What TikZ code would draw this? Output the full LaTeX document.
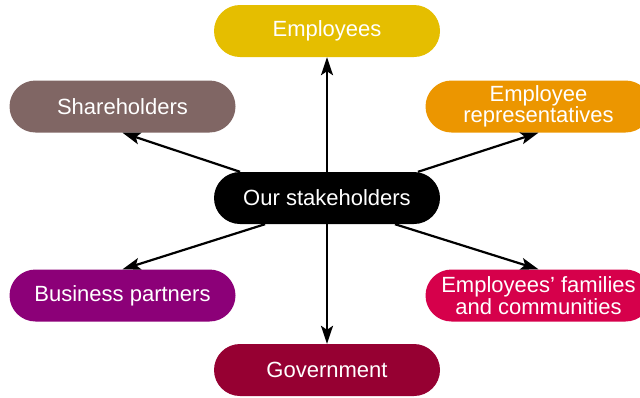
\documentclass[tikz,border=0pt]{standalone}
\usepackage{fontspec}
\setmainfont{Liberation Sans}
\usetikzlibrary{positioning,calc,arrows.meta}

\definecolor{cEmployees}{RGB}{229,190,0}
\definecolor{cShare}{RGB}{128,102,100}
\definecolor{cReps}{RGB}{236,150,0}
\definecolor{cPartners}{RGB}{140,0,120}
\definecolor{cFamilies}{RGB}{214,0,75}
\definecolor{cGov}{RGB}{150,0,50}

\tikzset{
    pill/.style={rectangle, rounded corners=26pt, minimum width=226pt, minimum height=52pt,
        inner sep=0pt, text=white, align=center,
        font=\fontsize{22}{20}\selectfont},
    arr/.style={line width=2.2pt, -{Stealth[length=18pt,width=12pt,inset=4pt]}}
}

\begin{document}
\begin{tikzpicture}[x=1pt, y=-1pt]
    \useasboundingbox (0,0) rectangle (640,397);

    \node[pill, fill=black] (hub) at (327,198) {Our stakeholders};

    \node[pill, fill=cEmployees] (employees) at (327,31) {Employees};
    \node[pill, fill=cShare] (shareholders) at (122.5,106.5) {Shareholders};
    \node[pill, fill=cReps] (reps) at (538.5,106.5) {Employee\\representatives};
    \node[pill, fill=cPartners] (partners) at (122.5,295.5) {Business partners};
    \node[pill, fill=cFamilies] (families) at (538.5,295.5) {Employees' families\\and communities};
    \node[pill, fill=cGov] (government) at (327,370) {Government};

    % spokes
    \draw[arr] (hub) -- (employees);
    \draw[arr] (hub) -- (government);
    \draw[arr] ([xshift=-87pt]hub.north) -- (shareholders.south);
    \draw[arr] ([xshift=91pt]hub.north) -- (reps.south);
    \draw[arr] ([xshift=-62pt]hub.south) -- (partners.north);
    \draw[arr] ([xshift=68pt]hub.south) -- (families.north);
\end{tikzpicture}
\end{document}
